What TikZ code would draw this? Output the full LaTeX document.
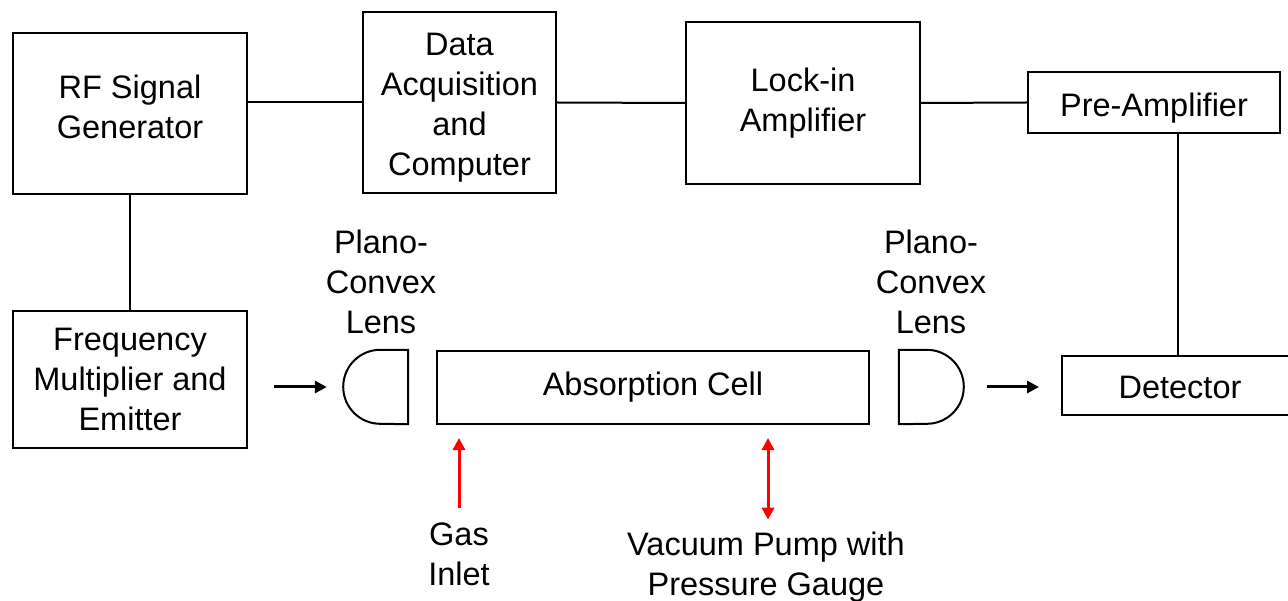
\documentclass[tikz,border=0pt]{standalone}
\usepackage{fontspec}
\setmainfont{Liberation Sans}
\usetikzlibrary{arrows.meta, positioning, calc}
\definecolor{GasRed}{HTML}{FF0000}
\tikzset{
    % Block styles
    blockbox/.style={
        rectangle,
        draw=black,
        line width=2pt,
        align=center,
        inner sep=0pt,
        font=\fontsize{32.5}{40}\selectfont
    },
    lensbox/.style={
        rectangle,
        draw=none,
        minimum width=65pt,
        minimum height=74pt,
        inner sep=0pt
    },
    labeltext/.style={
        align=center,
        inner sep=0pt,
        font=\fontsize{32.5}{40}\selectfont
    },
    % Line styles
    wire/.style={
        line width=2pt,
        black
    },
    beamarrow/.style={
        -{Triangle[length=12pt,width=12pt]},
        line width=3pt,
        black
    },
    gasarrow/.style={
        -{Triangle[length=12pt,width=12pt]},
        line width=3pt,
        GasRed
    },
    pumparrow/.style={
        {Triangle[length=12pt,width=12pt]}-{Triangle[length=12pt,width=12pt]},
        line width=3pt,
        GasRed
    }
}
\begin{document}
\begin{tikzpicture}[x=1pt, y=-1pt]
    \useasboundingbox (0,0) rectangle (1288,601);

    % Top row
    \node[blockbox, minimum width=234pt, minimum height=161pt] (rf) at (130,113.5) {};
    \node[labeltext] (rfText) at (130,107) {RF Signal\\Generator};
    \node[blockbox, minimum width=193pt, minimum height=181pt] (daq) at (459.5,102.5) {};
    \node[labeltext] (daqText) at (459.5,107.5) {Data\\Acquisition\\and\\Computer};
    \node[blockbox, minimum width=234pt, minimum height=162pt] (lia) at (803,103) {Lock-in\\Amplifier};
    \node[blockbox, minimum width=252pt, minimum height=61pt] (pre) at (1154,102.5) {};
    \node[labeltext] (preText) at (1154,108) {Pre-Amplifier};

    % Beam path
    \node[blockbox, minimum width=234pt, minimum height=137pt] (fme) at (130,379.5) {Frequency\\Multiplier and\\Emitter};
    \node[blockbox, minimum width=432pt, minimum height=73pt] (cell) at (653,387.5) {Absorption Cell};
    \node[blockbox, minimum width=232pt, minimum height=59pt] (det) at (1178,385.5) {};
    \node[labeltext] (detText) at (1180,387.5) {Detector};

    % Lenses
    \node[lensbox] (lensL) at (375.5,387) {};
    \node[lensbox] (lensR) at (931.5,387) {};
    \draw[wire] (lensL.north east) -- ++(-28,0) arc[start angle=90, end angle=270, radius=37pt] -- (lensL.south east) -- cycle;
    \draw[wire] (lensR.north west) -- ++(28,0) arc[start angle=90, end angle=-90, radius=37pt] -- (lensR.south west) -- cycle;
    \node[labeltext] (planoL) at (381,282) {Plano-\\Convex\\Lens};
    \node[labeltext] (planoR) at (931,282) {Plano-\\Convex\\Lens};

    % Gas handling
    \node[labeltext] (gas) at (459,554) {Gas\\Inlet};
    \node[labeltext] (pump) at (766,567) {Vacuum Pump with\\Pressure Gauge};

    % Wires
    \draw[wire] (rf.east |- daq.west) -- (daq.west);
    \draw[wire] (daq.east) -- (lia.west);
    \draw[wire] (lia.east) -- (pre.west);
    \draw[wire] (det.north) -- (det.north |- pre.south);
    \draw[wire] (rf.south) -- (fme.north);

    % Arrows
    \draw[beamarrow, shorten <=26pt, shorten >=16pt] (fme.east |- lensL.west) -- (lensL.west);
    \draw[beamarrow, shorten <=23pt, shorten >=22pt] (lensR.east) -- (lensR.east -| det.west);
    \draw[gasarrow, shorten <=14pt, shorten >=13pt] (gas.north) -- (gas.north |- cell.south);
    \draw[pumparrow, shorten <=12pt, shorten >=13pt] ([xshift=2pt]pump.north) -- ([xshift=2pt]pump.north |- cell.south);
\end{tikzpicture}
\end{document}
